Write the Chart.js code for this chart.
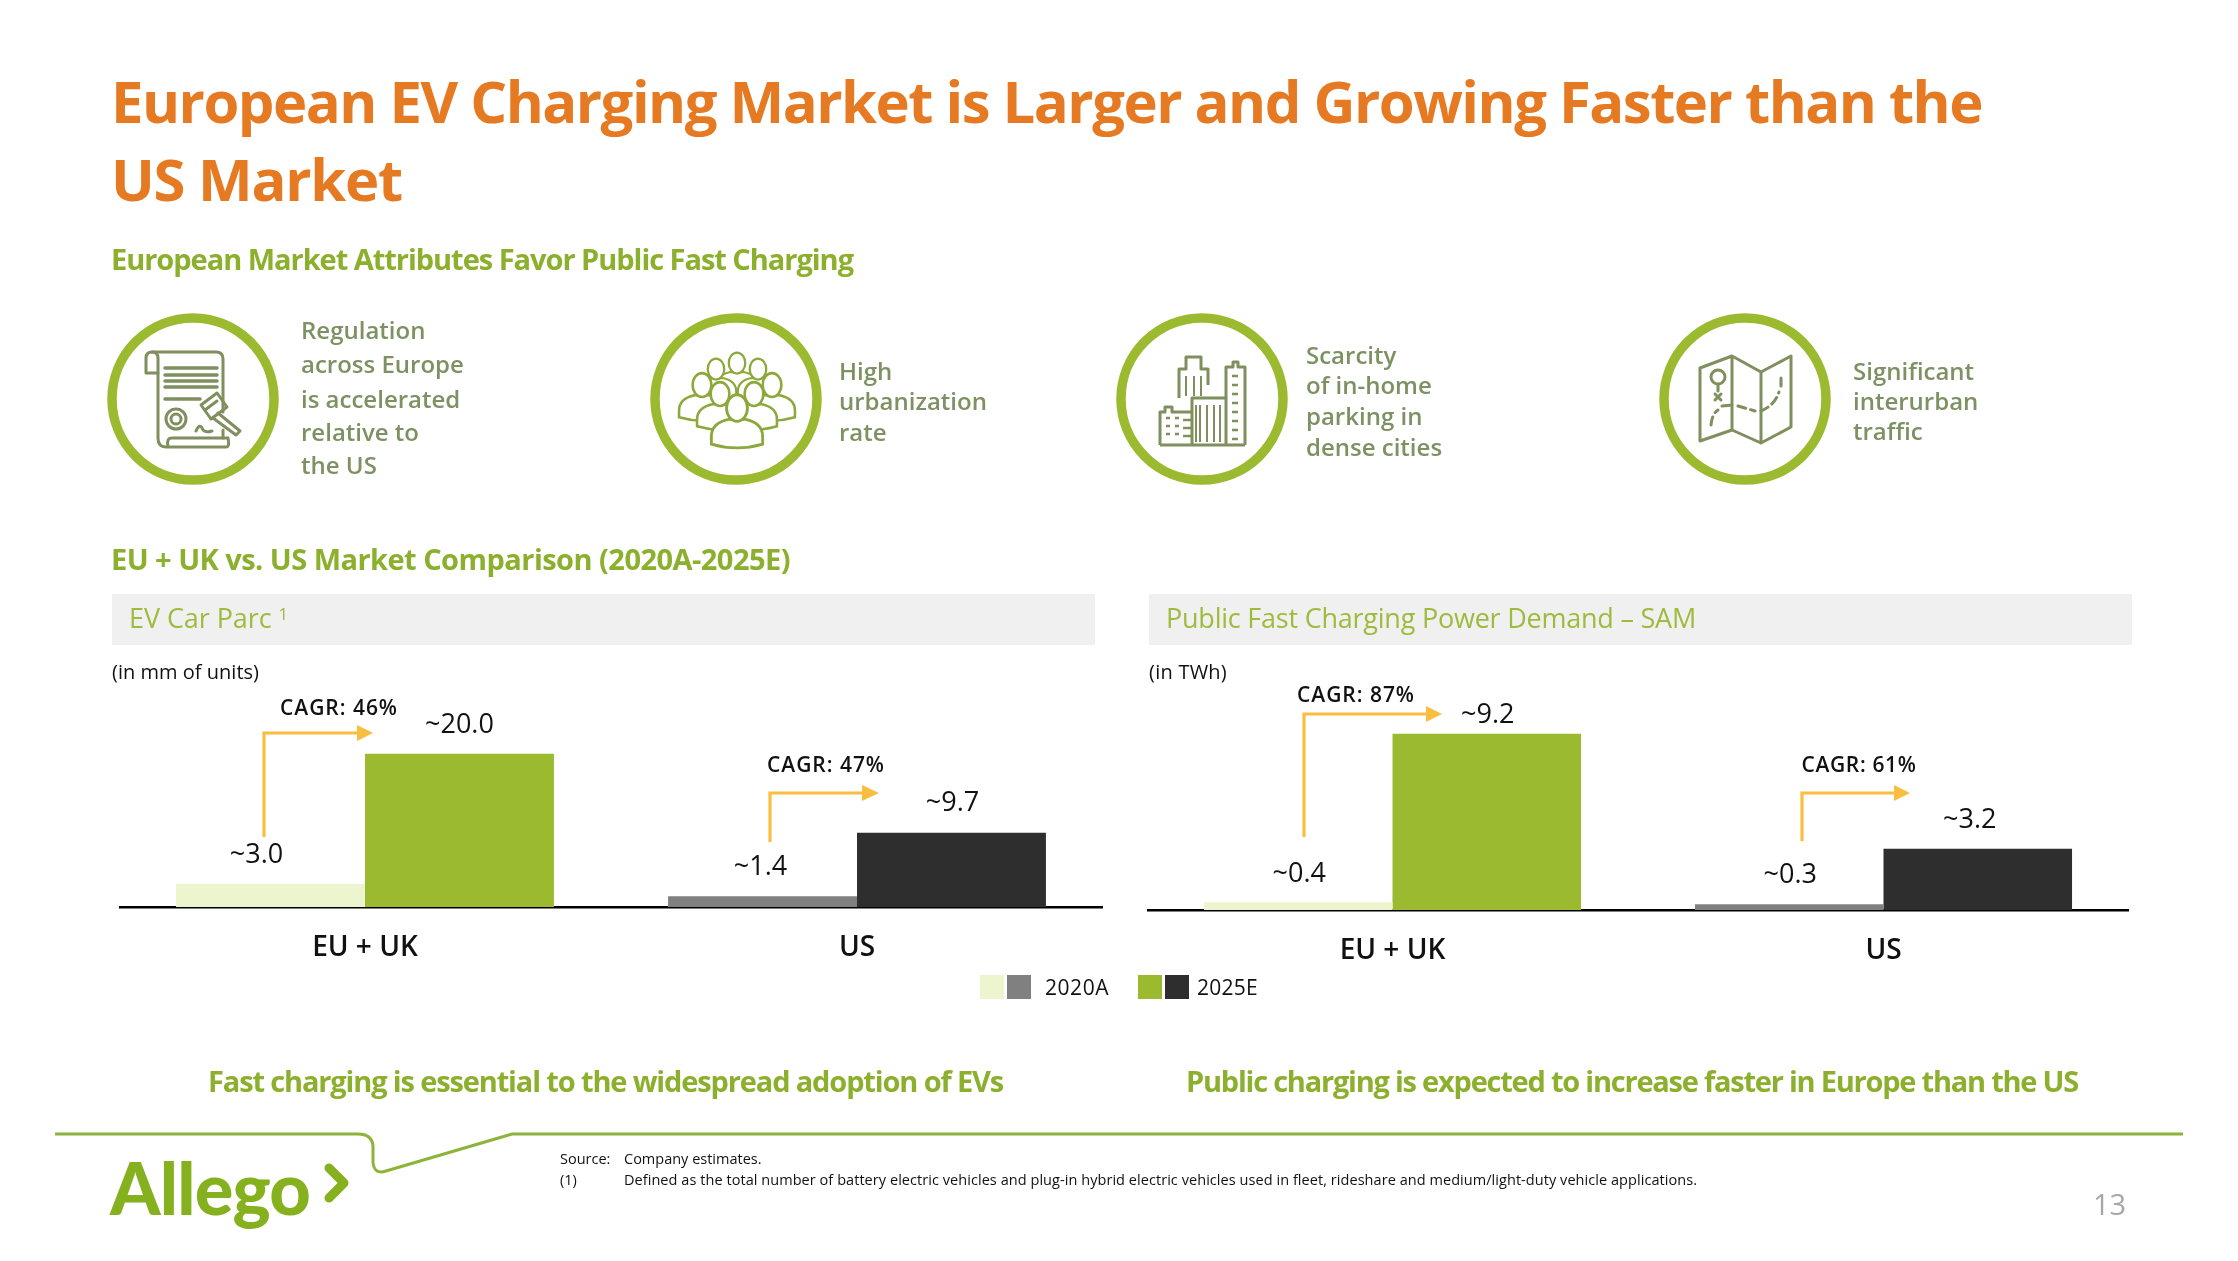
<!DOCTYPE html>
<html><head><meta charset="utf-8">
<script src="https://cdn.jsdelivr.net/npm/chart.js@4"></script>
<style>
html,body{margin:0;padding:0;background:#fff;width:2238px;height:1261px;overflow:hidden;font-family:"Open Sans",sans-serif}
.t{position:absolute;white-space:nowrap;line-height:1;transform:translateY(-50%)}
.box{position:absolute;background:#F0F0F0}
.sw{position:absolute}
canvas{position:absolute}
svg{position:absolute;left:0;top:0}
sup{font-size:.62em;line-height:0;vertical-align:baseline;position:relative;top:-.5em}
</style></head><body>
<div class="box" style="left:112px;top:594px;width:983px;height:51px"></div>
<div class="box" style="left:1149px;top:594px;width:983px;height:51px"></div>
<svg width="2238" height="1261" viewBox="0 0 2238 1261" fill="none">
 <g stroke="#9BBA2F" stroke-width="9.5">
  <circle cx="193" cy="399" r="81"/><circle cx="736" cy="399" r="81"/><circle cx="1202" cy="399" r="81"/><circle cx="1745" cy="399" r="81"/>
 </g>
 <!-- document + gavel -->
 <g stroke="#7F8F5E" stroke-width="3" stroke-linejoin="round" stroke-linecap="round">
  <path d="M158 373H146V358Q146 352 152 352H216Q223 352 223 359V412"/>
  <path d="M158 358Q158 352 152 352M158 358V438Q158 447 166 447H226Q230 447 228 438H172Q166 438 168 447"/>
  <path d="M223 430V438"/>
  <g stroke-width="3.5"><path d="M165 368H217M165 375H217M165 381H217M165 387H217M165 399H200"/></g>
  <circle cx="176" cy="419" r="10"/><circle cx="176" cy="419" r="5"/>
  <path d="M196 431Q200 422 203 430Q206 433 212 431"/>
  <path d="M201 405L217 393L227 407L211 419Z"/><path d="M205 410L217 401M218 413L240 431L236 435L213 418"/>
 </g>
 <!-- people -->
 <g id="people" stroke="#8CA83A" stroke-width="3" fill="#fff"></g>
 <!-- city -->
 <g stroke="#7F8F5E" stroke-width="3" stroke-linejoin="round">
  <path d="M1160 445H1245M1179 398V369H1186V357H1201V369H1208V385M1226 445V367H1233V362H1238V367H1245V445M1160 445V412H1165V407H1172V412H1192M1192 445V398H1227"/>
  <path d="M1186 376V396M1194 376V396M1201 376V396M1200 405V442M1207 405V442M1214 405V442M1220 405V442M1196 405V442" stroke-width="2"/>
  <path d="M1166 418h4M1175 418h4M1166 426h4M1175 426h4M1166 434h4M1175 434h4M1183 420h8M1183 428h8M1183 436h8M1232 376h6M1232 385h6M1232 394h6M1232 403h6M1232 412h6M1232 421h6M1232 430h6M1232 439h6" stroke-width="2.5"/>
 </g>
 <!-- map -->
 <g stroke="#7F8F5E" stroke-width="3" stroke-linejoin="round" stroke-linecap="round">
  <path d="M1700 368L1732 356L1761 372L1791 356V427L1761 443L1732 430L1700 441ZM1732 356V430M1761 372V443"/>
  <circle cx="1718" cy="377" r="7"/><path d="M1718 384V391M1715 394L1721 400M1721 394L1715 400"/>
  <path d="M1711 425Q1712 414 1718 410M1722 406L1732 405M1738 406L1755 411M1761 411Q1775 405 1779 392M1781 386L1781 375" stroke-dasharray="8 5"/>
 </g>
 <!-- footer rule -->
 <path d="M55 1134H358Q372 1134 373 1146V1162Q374 1175 386 1171L512 1134H2183" stroke="#8DB33A" stroke-width="3" fill="none"/>
 <!-- logo chevron -->
 <path d="M329 1168L344 1183L329 1198" stroke="#86B11F" stroke-width="9" stroke-linecap="round" stroke-linejoin="round" fill="none"/>
</svg>
<canvas id="c1" width="984" height="290" style="left:119px;top:677px"></canvas>
<canvas id="c2" width="982" height="290" style="left:1147px;top:680px"></canvas>
<svg width="2238" height="1261" viewBox="0 0 2238 1261" fill="none">
 <!-- CAGR arrows -->
 <g stroke="#F9BE3F" stroke-width="3.2" fill="none">
  <path d="M264 837V733H358"/><path d="M770 842V793H863"/><path d="M1304 837V714H1427"/><path d="M1802 841V793H1895"/>
 </g>
 <g fill="#F9BE3F">
  <path d="M357 725L373 733L357 741Z"/><path d="M862 785L879 793L862 801Z"/><path d="M1426 706L1442 714L1426 722Z"/><path d="M1894 785L1910 793L1894 801Z"/>
 </g>
</svg>
<div id="texts"></div>
<script>
// ---------- data ----------
const categories = ['EU + UK', 'US'];
const seriesNames = ['2020A', '2025E'];
const carParc2020 = [3.0, 1.4];
const carParc2025 = [20.0, 9.7];
const power2020 = [0.4, 0.3];
const power2025 = [9.2, 3.2];
// ---------- styles ----------
const LIGHT = '#EDF5CF', GRAY = '#808080', GREEN = '#9BBA2F', DARK = '#2E2E2E';
const ORANGE = '#E67A23', HEAD = '#8CB02E', OLIVE = '#7D9162', PANEL = '#9DBB3C';

// text helper: x, vertical centre, text, size, weight, colour, fitted width, anchor, family
const host = document.getElementById('texts');
function T(x, y, html, size, weight, color, fit, anchor, family) {
  const s = document.createElement('span');
  s.className = 't';
  s.innerHTML = html;
  s.style.cssText = `left:${x}px;top:${y}px;font-size:${size}px;font-weight:${weight};color:${color}`;
  if (family) s.style.fontFamily = family;
  host.appendChild(s);
  if (fit) {
    const w = s.getBoundingClientRect().width;
    const n = s.textContent.length;
    s.style.letterSpacing = ((fit - w) / n) + 'px';
  }
  if (anchor === 'c') s.style.left = (x - s.getBoundingClientRect().width / 2) + 'px';
  return s;
}
T(111, 101, 'European EV Charging Market is Larger and Growing Faster than the', 58, 700, ORANGE, 1871);
T(111, 179, 'US Market', 58, 700, ORANGE, 291);
T(111, 258, 'European Market Attributes Favor Public Fast Charging', 29, 700, HEAD, 742);
T(111, 558, 'EU + UK vs. US Market Comparison (2020A-2025E)', 29, 700, HEAD, 679);
[['Regulation',330],['across Europe',364],['is accelerated',399],['relative to',432],['the US',465]].forEach(a=>T(301,a[1],a[0],24,600,OLIVE));
[['High',371],['urbanization',401],['rate',432]].forEach(a=>T(839,a[1],a[0],24,600,OLIVE));
[['Scarcity',355],['of in-home',385],['parking in',416],['dense cities',447]].forEach(a=>T(1306,a[1],a[0],24,600,OLIVE));
[['Significant',371],['interurban',401],['traffic',431]].forEach(a=>T(1853,a[1],a[0],24,600,OLIVE));
T(129, 617, 'EV Car Parc <sup>1</sup>', 27, 400, PANEL, 159);
T(1166, 617, 'Public Fast Charging Power Demand – SAM', 27, 400, PANEL, 530);
T(112, 672, '(in mm of units)', 20, 400, '#111', 147);
T(1149, 672, '(in TWh)', 20, 400, '#111', 78);
T(339, 707, 'CAGR: 46%', 21, 600, '#111', 118, 'c');
T(826, 764, 'CAGR: 47%', 21, 600, '#111', 118, 'c');
T(1356, 694, 'CAGR: 87%', 21, 600, '#111', 118, 'c');
T(1859, 764, 'CAGR: 61%', 21, 600, '#111', 115, 'c');
T(1045, 987, seriesNames[0], 21, 400, '#111', 64);
T(1197, 987, seriesNames[1], 21, 400, '#111', 61);
T(208, 1080, 'Fast charging is essential to the widespread adoption of EVs', 29, 700, HEAD, 795);
T(1186, 1080, 'Public charging is expected to increase faster in Europe than the US', 29, 700, HEAD, 892);
T(560, 1159, 'Source:', 14.5, 400, '#111');
T(624, 1159, 'Company estimates.', 14.5, 400, '#111');
T(560, 1180, '(1)', 14.5, 400, '#111');
T(624, 1180, 'Defined as the total number of battery electric vehicles and plug-in hybrid electric vehicles used in fleet, rideshare and medium/light-duty vehicle applications.', 14.5, 400, '#111', 1073);
T(2093, 1203, '13', 29, 400, '#A6A6A6');
T(110, 1187, 'Allego', 72, 900, '#86B11F', 200, null, 'Lato, sans-serif');

// legend swatches
[[980,LIGHT],[1007,GRAY],[1138,GREEN],[1165,DARK]].forEach(a=>{
  const d=document.createElement('div');d.className='sw';
  d.style.cssText=`left:${a[0]}px;top:975px;width:24px;height:24px;background:${a[1]}`;
  document.body.appendChild(d);
});

// people icon
const P = document.getElementById('people');
[[737,363,.75],[716,369,.75],[758,369,.75],[702,385,.85],[772,385,.85],[720,394,.85],[754,394,.85],[737,408,.95]].forEach(p=>{
  const [x,y,k]=p, g=document.createElementNS('http://www.w3.org/2000/svg','g');
  g.setAttribute('transform',`translate(${x} ${y}) scale(${k})`);
  g.innerHTML='<path d="M-27 38V30Q-27 16 -9 12H9Q27 16 27 30V38Q0 46 -27 38Z"/><ellipse cx="0" cy="0" rx="11" ry="14"/>';
  P.appendChild(g);
});

// ---------- charts ----------
const valueLabels = {
  id: 'valueLabels',
  afterDatasetsDraw(chart, args, o) {
    const c = chart.ctx;
    c.save();
    c.font = '400 27px "Open Sans"';
    c.fillStyle = '#111';
    c.textAlign = 'center';
    c.textBaseline = 'middle';
    chart.data.datasets.forEach((ds, i) => {
      chart.getDatasetMeta(i).data.forEach((bar, j) => {
        const [dx, dy] = o.shift[i][j];
        c.fillText('~' + ds.data[j].toFixed(1), bar.x + dx, bar.y - dy);
      });
    });
    c.restore();
  }
};
function make(id, a, b, yMax, shift) {
  return new Chart(document.getElementById(id), {
    type: 'bar',
    data: { labels: categories, datasets: [
      { label: seriesNames[0], data: a, backgroundColor: [LIGHT, GRAY] },
      { label: seriesNames[1], data: b, backgroundColor: [GREEN, DARK] }
    ]},
    options: {
      responsive: false, animation: false,
      layout: { padding: 0 },
      datasets: { bar: { barPercentage: 1, categoryPercentage: 0.768, borderWidth: 0 } },
      plugins: { legend: { display: false }, tooltip: { enabled: false }, title: { display: false }, valueLabels: { shift } },
      scales: {
        y: { display: false, min: 0, max: yMax },
        x: { grid: { display: false, drawTicks: false }, border: { display: true, color: '#000', width: 2.5 },
             offset: true,
             ticks: { color: '#111', padding: 24, font: { family: '"Open Sans"', size: 28, weight: '600' } },
             afterFit(s) { s.height = 60; } }
      }
    },
    plugins: [valueLabels]
  });
}
make('c1', carParc2020, carParc2025, 30, [[[-14, 29], [-2, 29]], [[0, 28], [1, 29]]]);
make('c2', power2020, power2025, 12, [[[1, 28], [1, 29]], [[1, 18], [-8, 28]]]);
</script>
</body></html>
